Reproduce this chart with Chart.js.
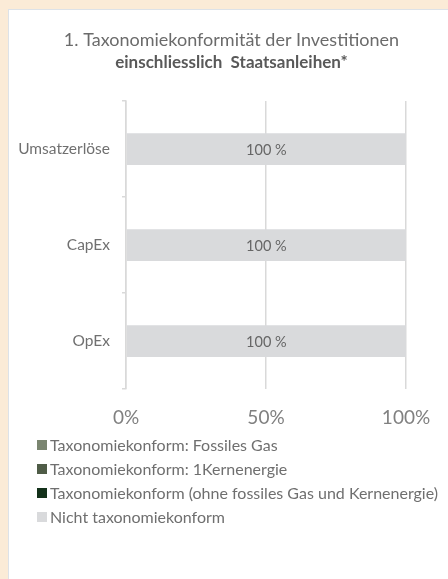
<!DOCTYPE html>
<html>
<head>
<meta charset="utf-8">
<script src="https://cdn.jsdelivr.net/npm/chart.js@4"></script>
<style>
  body { margin:0; background:#fbebd7; width:448px; height:579px; overflow:hidden; }
  #panel { position:absolute; left:8px; top:9px; width:439px; height:569px; background:#fff;
           border-left:1px solid #dde2e8; border-top:1px solid #dde2e8; }
  canvas { display:block; }
</style>
</head>
<body>
<div id="panel"><canvas id="myChart" width="439" height="569"></canvas></div>
<script>
const categories = ['Umsatzerlöse', 'CapEx', 'OpEx'];
const seriesNames = [
  'Taxonomiekonform: Fossiles Gas',
  'Taxonomiekonform: 1Kernenergie',
  'Taxonomiekonform (ohne fossiles Gas und Kernenergie)',
  'Nicht taxonomiekonform'
];
const fossilesGas = [0, 0, 0];
const kernenergie = [0, 0, 0];
const taxoKonform = [0, 0, 0];
const nichtKonform = [100, 100, 100];
const xTicks = [0, 50, 100];
const colors = ['#7a8570', '#4f5c47', '#13311a', '#d9dadc'];

const font = 'Lato';

// "100 %" labels in the middle of each bar
const barLabels = {
  id: 'barLabels',
  afterDatasetsDraw(chart) {
    const ctx = chart.ctx;
    ctx.save();
    ctx.font = '14.5px ' + font;
    ctx.fillStyle = '#666666';
    ctx.textAlign = 'center';
    ctx.textBaseline = 'middle';
    chart.data.datasets.forEach((ds, i) => {
      chart.getDatasetMeta(i).data.forEach((bar, j) => {
        if (ds.data[j] > 0) {
          ctx.fillText(ds.data[j] + ' %', (bar.base + bar.x) / 2, bar.y + 1);
        }
      });
    });
    ctx.restore();
  }
};

// legend one item per line, under the axis
const listLegend = {
  id: 'listLegend',
  afterDraw(chart) {
    const ctx = chart.ctx;
    ctx.save();
    ctx.font = '16px ' + font;
    ctx.textBaseline = 'middle';
    chart.data.datasets.forEach((ds, i) => {
      const y = 435 + i * 24;
      ctx.fillStyle = ds.backgroundColor;
      ctx.fillRect(28, y - 5, 10, 10);
      ctx.fillStyle = '#6f6f6f';
      ctx.fillText(ds.label, 41, y + 1);
    });
    ctx.restore();
  }
};

const data = [fossilesGas, kernenergie, taxoKonform, nichtKonform];

new Chart(document.getElementById('myChart'), {
  type: 'bar',
  data: {
    labels: categories,
    datasets: seriesNames.map((name, i) => ({
      label: name,
      data: data[i],
      backgroundColor: colors[i],
      borderWidth: 0,
      barPercentage: 0.33,
      categoryPercentage: 1
    }))
  },
  options: {
    indexAxis: 'y',
    responsive: false,
    animation: false,
    layout: { padding: { left: 6, right: 0, top: 0, bottom: 133 } },
    plugins: {
      legend: { display: false },
      tooltip: { enabled: false },
      title: {
        display: true,
        text: '1. Taxonomiekonformität der Investitionen',
        color: '#6b6b6b',
        font: { family: font, size: 18, weight: 'normal' },
        padding: { top: 19, bottom: 2 }
      },
      subtitle: {
        display: true,
        text: 'einschliesslich  Staatsanleihen*',
        color: '#595959',
        font: { family: font, size: 17, weight: 'bold' },
        padding: { top: 0, bottom: 28 }
      }
    },
    scales: {
      x: {
        stacked: true,
        min: 0,
        max: 100,
        afterBuildTicks: s => { s.ticks = xTicks.map(v => ({ value: v })); },
        ticks: {
          callback: v => v + '%',
          color: '#808080',
          font: { family: font, size: 19 },
          padding: 17,
          maxRotation: 0
        },
        grid: { color: '#d9d9d9', lineWidth: 1.5, drawTicks: false },
        border: { display: false }
      },
      y: {
        stacked: true,
        afterFit: s => { s.width = 111; },
        ticks: {
          color: '#707070',
          font: { family: font, size: 15.5 },
          padding: 12
        },
        grid: { drawOnChartArea: false, drawTicks: true, tickLength: 4, color: '#d9d9d9', lineWidth: 1.5 },
        border: { display: true, color: '#d9d9d9', width: 1.5 }
      },
      // empty right-hand axis, keeps the plot clear of the right edge
      y2: {
        axis: 'y',
        type: 'category',
        position: 'right',
        afterFit: s => { s.width = 42; },
        ticks: { display: false },
        grid: { display: false },
        border: { display: false }
      }
    }
  },
  plugins: [barLabels, listLegend]
});
</script>
</body>
</html>
